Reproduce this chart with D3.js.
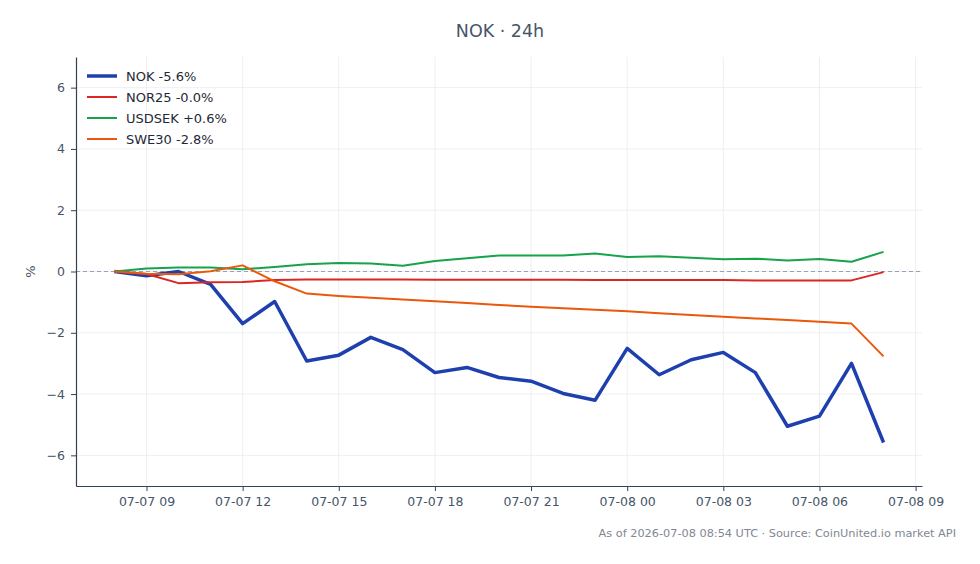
<!DOCTYPE html>
<html>
<head>
<meta charset="utf-8">
<script src="https://cdn.jsdelivr.net/npm/d3@7"></script>
<style>
  body { margin: 0; background: #fff; }
  svg { display: block; font-family: "DejaVu Sans", sans-serif; }
</style>
</head>
<body>
<svg id="chart" width="980" height="564"></svg>
<script>
// hourly points, 2026-07-07 08:00 UTC .. 2026-07-08 08:00 UTC
let start_time = Date.UTC(2026, 6, 7, 8);
let hours = d3.range(25).map(i => new Date(start_time + i * 3600e3));

let series_names = ['NOK', 'NOR25', 'USDSEK', 'SWE30'];
let series_colors = ['#1e40af', '#dc2626', '#16a34a', '#ea580c'];
let series_widths = [3.5, 2, 2, 2];

let nok_values = [0, -0.14, 0.0, -0.42, -1.7, -0.98, -2.92, -2.73, -2.15, -2.55, -3.3, -3.13,
  -3.46, -3.58, -3.98, -4.2, -2.51, -3.37, -2.88, -2.64, -3.3, -5.05, -4.72, -3.0, -5.58];
let nor25_values = [0, -0.08, -0.38, -0.35, -0.34, -0.28, -0.26, -0.26, -0.26, -0.26, -0.27, -0.27,
  -0.27, -0.27, -0.27, -0.28, -0.28, -0.28, -0.28, -0.28, -0.29, -0.29, -0.29, -0.29, -0.02];
let usdsek_values = [0, 0.1, 0.13, 0.13, 0.07, 0.15, 0.24, 0.28, 0.26, 0.19, 0.34, 0.43,
  0.52, 0.52, 0.52, 0.59, 0.47, 0.5, 0.45, 0.4, 0.42, 0.36, 0.41, 0.32, 0.64];
let swe30_values = [0, -0.07, -0.09, 0.01, 0.2, -0.32, -0.72, -0.8, -0.86, -0.91, -0.97, -1.03,
  -1.09, -1.15, -1.2, -1.25, -1.3, -1.36, -1.42, -1.48, -1.53, -1.58, -1.64, -1.7, -2.77];
let legend_labels = ['NOK -5.6%', 'NOR25 -0.0%', 'USDSEK +0.6%', 'SWE30 -2.8%'];

let y_ticks = [-6, -4, -2, 0, 2, 4, 6];
let x_ticks = d3.range(9).map(i => new Date(Date.UTC(2026, 6, 7, 9) + i * 3 * 3600e3));

let all_values = [nok_values, nor25_values, usdsek_values, swe30_values];

let margin = {left: 76, right: 58, top: 57, bottom: 78};
let width = 980, height = 564;

let svg = d3.select('#chart');

// 5% padding on the time axis, like the original
let pad = 1.2 * 3600e3;
let x = d3.scaleUtc()
  .domain([new Date(+hours[0] - pad), new Date(+hours[24] + pad)])
  .range([margin.left, width - margin.right]);
let y = d3.scaleLinear()
  .domain([-7, 7])
  .range([height - margin.bottom, margin.top]);

let gridColor = '#e8ebf0';

// grid
svg.append('g').selectAll('line.vg')
  .data(x_ticks)
  .enter().append('line')
  .attr('x1', d => x(d)).attr('x2', d => x(d))
  .attr('y1', margin.top).attr('y2', height - margin.bottom)
  .attr('stroke', gridColor).attr('stroke-width', 0.8);
svg.append('g').selectAll('line.hg')
  .data(y_ticks)
  .enter().append('line')
  .attr('x1', margin.left).attr('x2', width - margin.right)
  .attr('y1', d => y(d)).attr('y2', d => y(d))
  .attr('stroke', gridColor).attr('stroke-width', 0.8);

// zero line
svg.append('line')
  .attr('x1', margin.left).attr('x2', width - margin.right)
  .attr('y1', y(0)).attr('y2', y(0))
  .attr('stroke', '#97a1bb').attr('stroke-width', 1)
  .attr('stroke-dasharray', '4,3');

// series
let line = d3.line()
  .x((d, i) => x(hours[i]))
  .y(d => y(d));

svg.append('g').selectAll('path')
  .data(all_values)
  .enter().append('path')
  .attr('d', d => line(d))
  .attr('fill', 'none')
  .attr('stroke', (d, i) => series_colors[i])
  .attr('stroke-width', (d, i) => series_widths[i])
  .attr('stroke-linejoin', 'round');

// axes
let axisColor = '#334155';
let textColor = '#475569';

let x_axis = d3.axisBottom(x)
  .tickValues(x_ticks)
  .tickFormat(d3.utcFormat('%m-%d %H'))
  .tickSizeInner(5)
  .tickSizeOuter(0)
  .tickPadding(6);
let y_axis = d3.axisLeft(y)
  .tickValues(y_ticks)
  .tickFormat(d => d < 0 ? '\u2212' + Math.abs(d) : d)
  .tickSizeInner(5)
  .tickSizeOuter(0)
  .tickPadding(6);

let gx = svg.append('g')
  .attr('transform', `translate(0, ${height - margin.bottom})`)
  .call(x_axis);
let gy = svg.append('g')
  .attr('transform', `translate(${margin.left}, 0)`)
  .call(y_axis);

[gx, gy].forEach(g => {
  g.select('.domain').attr('stroke', axisColor).attr('stroke-width', 1.2);
  g.selectAll('.tick line').attr('stroke', axisColor).attr('stroke-width', 1);
  g.selectAll('.tick text')
    .attr('fill', textColor)
    .style('font-size', '12.5px')
    .style('font-family', '"DejaVu Sans", sans-serif');
});

// y label
svg.append('text')
  .attr('transform', `translate(35, ${y(0)}) rotate(-90)`)
  .attr('text-anchor', 'middle')
  .attr('fill', textColor)
  .style('font-size', '13px')
  .text('%');

// title
svg.append('text')
  .attr('x', 500).attr('y', 37)
  .attr('text-anchor', 'middle')
  .attr('fill', '#475569')
  .style('font-size', '17.5px')
  .text('NOK \u00b7 24h');

// legend
let legend = svg.append('g')
  .attr('transform', `translate(87, 76)`);
let items = legend.selectAll('g')
  .data(series_names)
  .enter().append('g')
  .attr('transform', (d, i) => `translate(0, ${i * 21})`);
items.append('line')
  .attr('x1', 0).attr('x2', 30)
  .attr('stroke', (d, i) => series_colors[i])
  .attr('stroke-width', (d, i) => series_widths[i]);
items.append('text')
  .attr('x', 39).attr('y', 4.5)
  .attr('fill', '#1f2937')
  .style('font-size', '13px')
  .text((d, i) => legend_labels[i]);

// footer
svg.append('text')
  .attr('x', 956).attr('y', 537)
  .attr('text-anchor', 'end')
  .attr('fill', '#7f8794')
  .style('font-size', '11.3px')
  .text('As of 2026-07-08 08:54 UTC \u00b7 Source: CoinUnited.io market API');
</script>
</body>
</html>
